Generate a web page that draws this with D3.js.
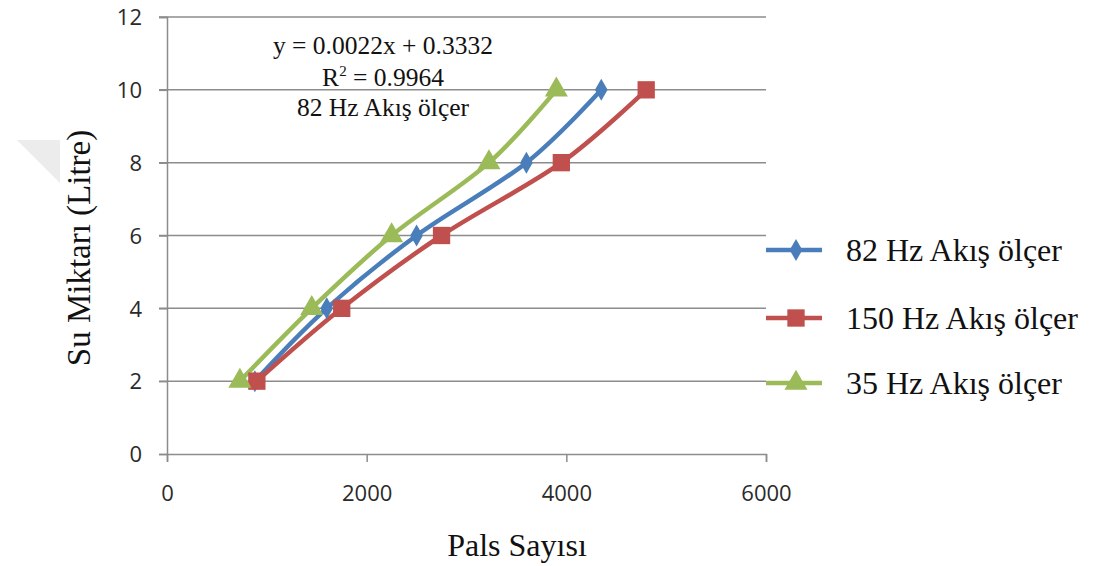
<!DOCTYPE html>
<html><head><meta charset="utf-8">
<script src="https://cdn.jsdelivr.net/npm/d3@7"></script>
<style>body{margin:0;background:#fff}svg{display:block}</style>
</head><body>
<svg id="c" width="1094" height="566"></svg>
<script>
const yValues = [2, 4, 6, 8, 10];
const s82 = [880, 1600, 2500, 3600, 4350];
const s150 = [900, 1750, 2750, 3950, 4800];
const s35 = [730, 1450, 2250, 3225, 3900];
const seriesNames = ["82 Hz Akış ölçer", "150 Hz Akış ölçer", "35 Hz Akış ölçer"];
const xTicks = [0, 2000, 4000, 6000];
const yTicks = [0, 2, 4, 6, 8, 10, 12];
const annotation = ["y = 0.0022x + 0.3332", "R² = 0.9964", "82 Hz Akış ölçer"];

const colors = ["#4a7ebb", "#c0504d", "#9bbb59"];
const symbols = [d3.symbolDiamond, d3.symbolSquare, d3.symbolTriangle];
const symSizes = [140, 300, 230];

const svg = d3.select("#c");
const x = d3.scaleLinear().domain([0, 6000]).range([167, 766]);
const y = d3.scaleLinear().domain([0, 12]).range([454, 17]);

// watermark triangle
svg.append("path").attr("d", "M17,140 L60,140 L60,183 Z").attr("fill", "#ececec");

// gridlines
svg.append("g").selectAll("line").data(yTicks.filter(d => d > 0)).join("line")
  .attr("x1", 159).attr("x2", 766).attr("y1", d => y(d)).attr("y2", d => y(d))
  .attr("stroke", "#8c8c8c").attr("stroke-width", 1.5);

// axes
const yAxis = svg.append("g").attr("transform", "translate(167,0)")
  .call(d3.axisLeft(y).tickValues(yTicks).tickFormat(d3.format("d")).tickSize(8).tickPadding(17));
const xAxis = svg.append("g").attr("transform", "translate(0,454)")
  .call(d3.axisBottom(x).tickValues(xTicks).tickFormat(d3.format("d")).tickSize(8).tickPadding(23));
[yAxis, xAxis].forEach(a => {
  a.select(".domain").attr("stroke", "#8c8c8c").attr("stroke-width", 1.5);
  a.selectAll(".tick line").attr("stroke", "#8c8c8c").attr("stroke-width", 1.5);
  a.selectAll("text").attr("font-family", "Open Sans, sans-serif").attr("font-size", 22).attr("fill", "#2a2a2a");
});
yAxis.selectAll(".tick text").attr("dy", "0.35em");

// series lines
const allSeries = [s82, s150, s35];
const line = d3.line().x(d => x(d[0])).y(d => y(d[1])).curve(d3.curveCatmullRom.alpha(0));
[0, 1, 2].forEach(i => {
  const pts = allSeries[i].map((v, k) => [v, yValues[k]]);
  svg.append("path").datum(pts).attr("d", line).attr("fill", "none")
    .attr("stroke", colors[i]).attr("stroke-width", 4.5);
});
[0, 1, 2].forEach(i => {
  const pts = allSeries[i].map((v, k) => [v, yValues[k]]);
  svg.append("g").selectAll("path").data(pts).join("path")
    .attr("transform", d => `translate(${x(d[0])},${y(d[1])})`)
    .attr("d", d3.symbol().type(symbols[i]).size(symSizes[i]))
    .attr("fill", colors[i]);
});

// annotation
const ann = svg.append("text").attr("font-family", "Liberation Serif, serif").attr("font-size", 25.5)
  .attr("fill", "#111").attr("text-anchor", "middle");
ann.append("tspan").attr("x", 383).attr("y", 54).text(annotation[0]);
const r = ann.append("tspan").attr("x", 383).attr("y", 86);
r.text("R");
r.append("tspan").attr("font-size", 15).attr("dy", -10).text("2");
r.append("tspan").attr("dy", 10).text(" = 0.9964");
ann.append("tspan").attr("x", 383).attr("y", 116).text(annotation[2]);

// legend
const legY = [250, 318, 383];
seriesNames.forEach((n, i) => {
  const g = svg.append("g").attr("transform", `translate(0,${legY[i]})`);
  g.append("line").attr("x1", 766).attr("x2", 822).attr("stroke", colors[i]).attr("stroke-width", 4.5);
  g.append("path").attr("transform", "translate(796,0)")
    .attr("d", d3.symbol().type(symbols[i]).size(symSizes[i])).attr("fill", colors[i]);
  g.append("text").attr("x", 846).attr("y", 0).attr("dy", "0.33em")
    .attr("font-family", "Liberation Serif, serif").attr("font-size", 32).attr("fill", "#111").text(n);
});

// axis titles
svg.append("text").attr("transform", "translate(90,248) rotate(-90)").attr("text-anchor", "middle")
  .attr("font-family", "Liberation Serif, serif").attr("font-size", 33).attr("fill", "#111").text("Su Miktarı (Litre)");
svg.append("text").attr("x", 517).attr("y", 556).attr("text-anchor", "middle")
  .attr("font-family", "Liberation Serif, serif").attr("font-size", 32).attr("fill", "#111").text("Pals Sayısı");
</script>
</body></html>
